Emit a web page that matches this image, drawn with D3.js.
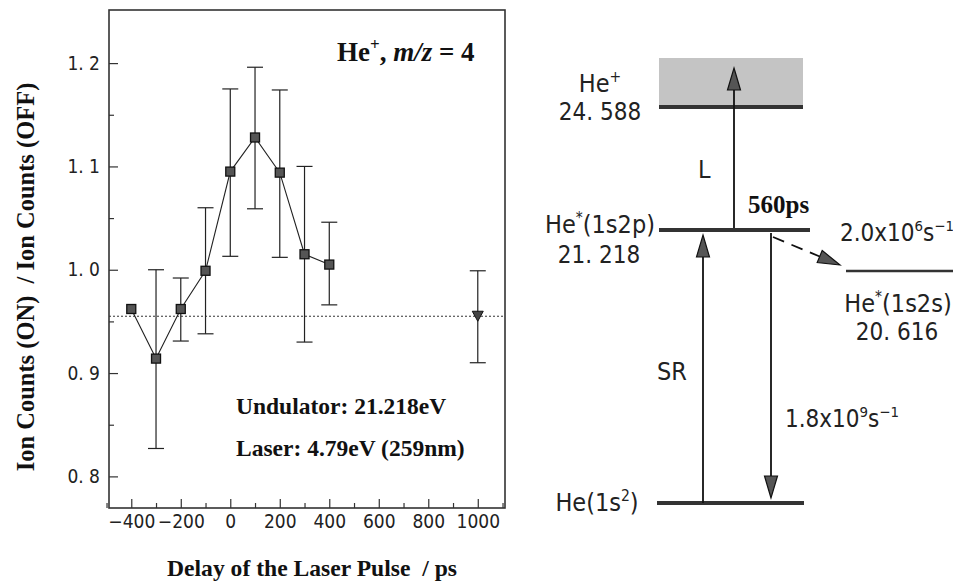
<!DOCTYPE html>
<html>
<head>
<meta charset="utf-8">
<script src="https://cdn.jsdelivr.net/npm/d3@7"></script>
<style>
body { margin: 0; background: #fff; }
</style>
</head>
<body>
<div id="graphs"></div>
<script>
// pump-probe data (delay in ps, ON/OFF ratio with error bar ends)
const delays = [-400, -300, -200, -100, 0, 100, 200, 300, 400];
const ratio  = [0.962, 0.914, 0.962, 0.999, 1.095, 1.128, 1.094, 1.015, 1.005];
const errTop = [null, 1.000, 0.992, 1.060, 1.175, 1.196, 1.174, 1.100, 1.046];
const errBot = [null, 0.827, 0.931, 0.938, 1.013, 1.059, 1.012, 0.930, 0.966];

// reference point (laser without SR) and base level
const refDelay = [1000];
const refRatio = [0.955];
const refTop = [0.999];
const refBot = [0.910];
const baseLevel = 0.955;

const xTicks = [-400, -200, 0, 200, 400, 600, 800, 1000];
const xMinor = [-500, -300, -100, 100, 300, 500, 700, 900, 1100];
const yTicks = [0.8, 0.9, 1.0, 1.1, 1.2];
const yMinor = [0.85, 0.95, 1.05, 1.15];

// energy level diagram
const levelNames = ['He(1s^{2})', 'He^{*}(1s2s)', 'He^{*}(1s2p)', 'He^{+}'];
const levelEnergy = [0, 20.616, 21.218, 24.588];
const rateLabels = ['1.8x10^{9}s^{−1}', '2.0x10^{6}s^{−1}'];
const lifetime = '560ps';

const width = 953;
const height = 582;
const plot = {left: 109, right: 505, top: 10, bottom: 508};

const svg = d3.select('#graphs')
.append('svg')
.attr('width', width)
.attr('height', height)
.attr('viewBox', [0, 0, width, height]);

const sansN = '"Liberation Sans Narrow", "DejaVu Sans Condensed", sans-serif';
const serif = '"Liberation Serif", "Times New Roman", serif';

const x = d3.scaleLinear()
.domain([-490, 1110])
.range([plot.left, plot.right]);

const y = d3.scaleLinear()
.domain([0.7694, 1.2514])
.range([plot.bottom, plot.top]);

const fmt = d => d3.format('.1f')(d).replace('.', '. ');

// axes, ticks inward
svg.append('g')
.attr('transform', `translate(0,${plot.bottom})`)
.call(d3.axisBottom(x).tickValues(xTicks).tickSizeInner(-9).tickSizeOuter(0).tickPadding(7).tickFormat(d3.format('d')))
.call(g => g.select('.domain').remove())
.call(g => g.selectAll('text').attr('font-size', '19px').attr('font-family', sansN).attr('fill', '#222'));

svg.append('g')
.attr('transform', `translate(0,${plot.bottom})`)
.call(d3.axisBottom(x).tickValues(xMinor).tickSizeInner(-5).tickSizeOuter(0).tickFormat(''))
.call(g => g.select('.domain').remove());

svg.append('g')
.attr('transform', `translate(${plot.left},0)`)
.call(d3.axisLeft(y).tickValues(yTicks).tickSizeInner(-9).tickSizeOuter(0).tickPadding(9).tickFormat(fmt))
.call(g => g.select('.domain').remove())
.call(g => g.selectAll('text').attr('font-size', '19px').attr('font-family', sansN).attr('fill', '#222'));

svg.append('g')
.attr('transform', `translate(${plot.left},0)`)
.call(d3.axisLeft(y).tickValues(yMinor).tickSizeInner(-5).tickSizeOuter(0).tickFormat(''))
.call(g => g.select('.domain').remove());

svg.selectAll('.tick line').attr('stroke', '#333').attr('stroke-width', 1.2);

// frame
svg.append('rect')
.attr('x', plot.left).attr('y', plot.top)
.attr('width', plot.right - plot.left).attr('height', plot.bottom - plot.top)
.attr('fill', 'none').attr('stroke', '#333').attr('stroke-width', 1.6);

// dashed base level
svg.append('line')
.attr('x1', plot.left).attr('x2', plot.right)
.attr('y1', y(baseLevel)).attr('y2', y(baseLevel))
.attr('stroke', '#333').attr('stroke-width', 1).attr('stroke-dasharray', '2,2');

const pts = delays.map((d, i) => ({x: d, v: ratio[i], hi: errTop[i], lo: errBot[i]}));
const refPts = refDelay.map((d, i) => ({x: d, v: refRatio[i], hi: refTop[i], lo: refBot[i]}));

// error bars
const eb = svg.append('g').attr('stroke', '#222').attr('stroke-width', 1.2);
const allErr = pts.concat(refPts).filter(d => d.hi != null);
eb.selectAll('line.v').data(allErr).join('line')
.attr('x1', d => x(d.x)).attr('x2', d => x(d.x))
.attr('y1', d => y(d.hi)).attr('y2', d => y(d.lo));
eb.selectAll('line.t').data(allErr).join('line')
.attr('x1', d => x(d.x) - 8).attr('x2', d => x(d.x) + 8)
.attr('y1', d => y(d.hi)).attr('y2', d => y(d.hi));
eb.selectAll('line.b').data(allErr).join('line')
.attr('x1', d => x(d.x) - 8).attr('x2', d => x(d.x) + 8)
.attr('y1', d => y(d.lo)).attr('y2', d => y(d.lo));

// connecting line
svg.append('path')
.datum(pts)
.attr('fill', 'none').attr('stroke', '#222').attr('stroke-width', 1.1)
.attr('d', d3.line().x(d => x(d.x)).y(d => y(d.v)));

// square markers
svg.append('g')
.selectAll('rect')
.data(pts)
.join('rect')
.attr('x', d => x(d.x) - 4.5).attr('y', d => y(d.v) - 4.5)
.attr('width', 9).attr('height', 9)
.attr('fill', '#555').attr('stroke', '#111').attr('stroke-width', 1.3);

// down triangle for reference
svg.append('g')
.selectAll('path')
.data(refPts)
.join('path')
.attr('d', d => `M${x(d.x) - 5.5},${y(d.v) - 5}L${x(d.x) + 5.5},${y(d.v) - 5}L${x(d.x)},${y(d.v) + 5}Z`)
.attr('fill', '#444').attr('stroke', '#111').attr('stroke-width', 1);

// rich text helper: ^{...} becomes superscript
function rich(t, str, size) {
    const parts = str.split(/(\^\{[^}]*\})/).filter(s => s.length);
    let up = false;
    parts.forEach(p => {
        if (p.startsWith('^{')) {
            t.append('tspan').attr('dy', -size * 0.42).attr('font-size', size * 0.62).text(p.slice(2, -1));
            up = true;
        } else {
            t.append('tspan').attr('dy', up ? size * 0.42 : 0).text(p);
            up = false;
        }
    });
    return t;
}

// annotations in plot
const ann = svg.append('text')
.attr('x', 337).attr('y', 61)
.attr('font-family', serif).attr('font-weight', 'bold').attr('font-size', 27).attr('fill', '#111');
ann.append('tspan').text('He');
ann.append('tspan').attr('dy', -11).attr('font-size', 17).text('+');
ann.append('tspan').attr('dy', 11).text(', ');
ann.append('tspan').attr('font-style', 'italic').text('m/z');
ann.append('tspan').text(' = 4');

svg.append('text')
.attr('x', 236).attr('y', 414)
.attr('font-family', serif).attr('font-weight', 'bold').attr('font-size', 23.5).attr('fill', '#111')
.text('Undulator: 21.218eV');
svg.append('text')
.attr('x', 236).attr('y', 456)
.attr('font-family', serif).attr('font-weight', 'bold').attr('font-size', 23.5).attr('fill', '#111')
.text('Laser: 4.79eV (259nm)');

// axis titles
svg.append('text')
.attr('x', 312).attr('y', 576)
.attr('text-anchor', 'middle')
.attr('font-family', serif).attr('font-weight', 'bold').attr('font-size', 23.6).attr('fill', '#111')
.attr('xml:space', 'preserve')
.text('Delay of the Laser Pulse  / ps');

svg.append('text')
.attr('transform', 'translate(34,277) rotate(-90)')
.attr('text-anchor', 'middle')
.attr('font-family', serif).attr('font-weight', 'bold').attr('font-size', 24.5).attr('fill', '#111')
.attr('xml:space', 'preserve')
.text('Ion Counts (ON)  / Ion Counts (OFF)');

// ---------- energy level diagram ----------
const e = d3.scaleLinear()
.domain([0, 20.616, 21.218, 24.588])
.range([503, 271, 230, 107]);

const lvX = [[657, 804], [846, 953], [659, 810], [659, 803]];
const lvW = [4, 2.5, 4, 4];

// continuum box above ionisation limit
svg.append('rect')
.attr('x', lvX[3][0]).attr('y', e(levelEnergy[3]) - 49)
.attr('width', lvX[3][1] - lvX[3][0]).attr('height', 49)
.attr('fill', '#c4c4c4');

svg.append('g')
.selectAll('line')
.data(levelEnergy)
.join('line')
.attr('x1', (d, i) => lvX[i][0]).attr('x2', (d, i) => lvX[i][1])
.attr('y1', d => e(d)).attr('y2', d => e(d))
.attr('stroke', '#333').attr('stroke-width', (d, i) => lvW[i]);

// level labels
const nameAt = [[597, 511], [898, 312], [600, 233], [600, 92]];
const valAt = [null, [897, 340], [599, 263], [600, 120]];
levelNames.forEach((n, i) => {
    const t = svg.append('text')
    .attr('x', nameAt[i][0]).attr('y', nameAt[i][1])
    .attr('text-anchor', 'middle')
    .attr('font-family', sansN).attr('font-size', 25).attr('fill', '#222');
    rich(t, n, 25);
    if (valAt[i]) {
        svg.append('text')
        .attr('x', valAt[i][0]).attr('y', valAt[i][1])
        .attr('text-anchor', 'middle')
        .attr('font-family', sansN).attr('font-size', 24).attr('fill', '#222')
        .attr('xml:space', 'preserve')
        .text(d3.format('.3f')(levelEnergy[i]).replace('.', '. '));
    }
});

function arrow(x1, y1, x2, y2, dashed) {
    const len = Math.hypot(x2 - x1, y2 - y1);
    const ux = (x2 - x1) / len, uy = (y2 - y1) / len;
    const hl = 22, hw = 6.5;
    const bx = x2 - ux * hl, by = y2 - uy * hl;
    svg.append('line')
    .attr('x1', x1).attr('y1', y1).attr('x2', bx).attr('y2', by)
    .attr('stroke', '#111').attr('stroke-width', 1.8)
    .attr('stroke-dasharray', dashed ? '12,8' : null);
    svg.append('path')
    .attr('d', `M${x2},${y2}L${bx - uy * hw},${by + ux * hw}L${bx + uy * hw},${by - ux * hw}Z`)
    .attr('fill', '#555').attr('stroke', '#111').attr('stroke-width', 1.2);
}

// L: laser ionisation, SR: excitation, radiative decays
arrow(734, e(levelEnergy[2]) - 2, 734, e(levelEnergy[3]) - 39, false);
arrow(703, e(levelEnergy[0]), 703, e(levelEnergy[2]) + 5, false);
arrow(771, e(levelEnergy[2]) + 3, 771, e(levelEnergy[0]) - 5, false);
arrow(773, e(levelEnergy[2]) + 7, 840, e(levelEnergy[1]) - 6, true);

svg.append('text')
.attr('x', 698).attr('y', 178)
.attr('font-family', sansN).attr('font-size', 25).attr('fill', '#222')
.text('L');
svg.append('text')
.attr('x', 657).attr('y', 380)
.attr('font-family', sansN).attr('font-size', 25).attr('fill', '#222')
.text('SR');
svg.append('text')
.attr('x', 748).attr('y', 213)
.attr('font-family', serif).attr('font-weight', 'bold').attr('font-size', 25).attr('fill', '#111')
.text(lifetime);

rich(svg.append('text')
.attr('x', 785).attr('y', 427)
.attr('font-family', sansN).attr('font-size', 24).attr('fill', '#222'), rateLabels[0], 24);
rich(svg.append('text')
.attr('x', 840).attr('y', 241)
.attr('font-family', sansN).attr('font-size', 24).attr('fill', '#222'), rateLabels[1], 24);

svg.node();
</script>
</body>
</html>
